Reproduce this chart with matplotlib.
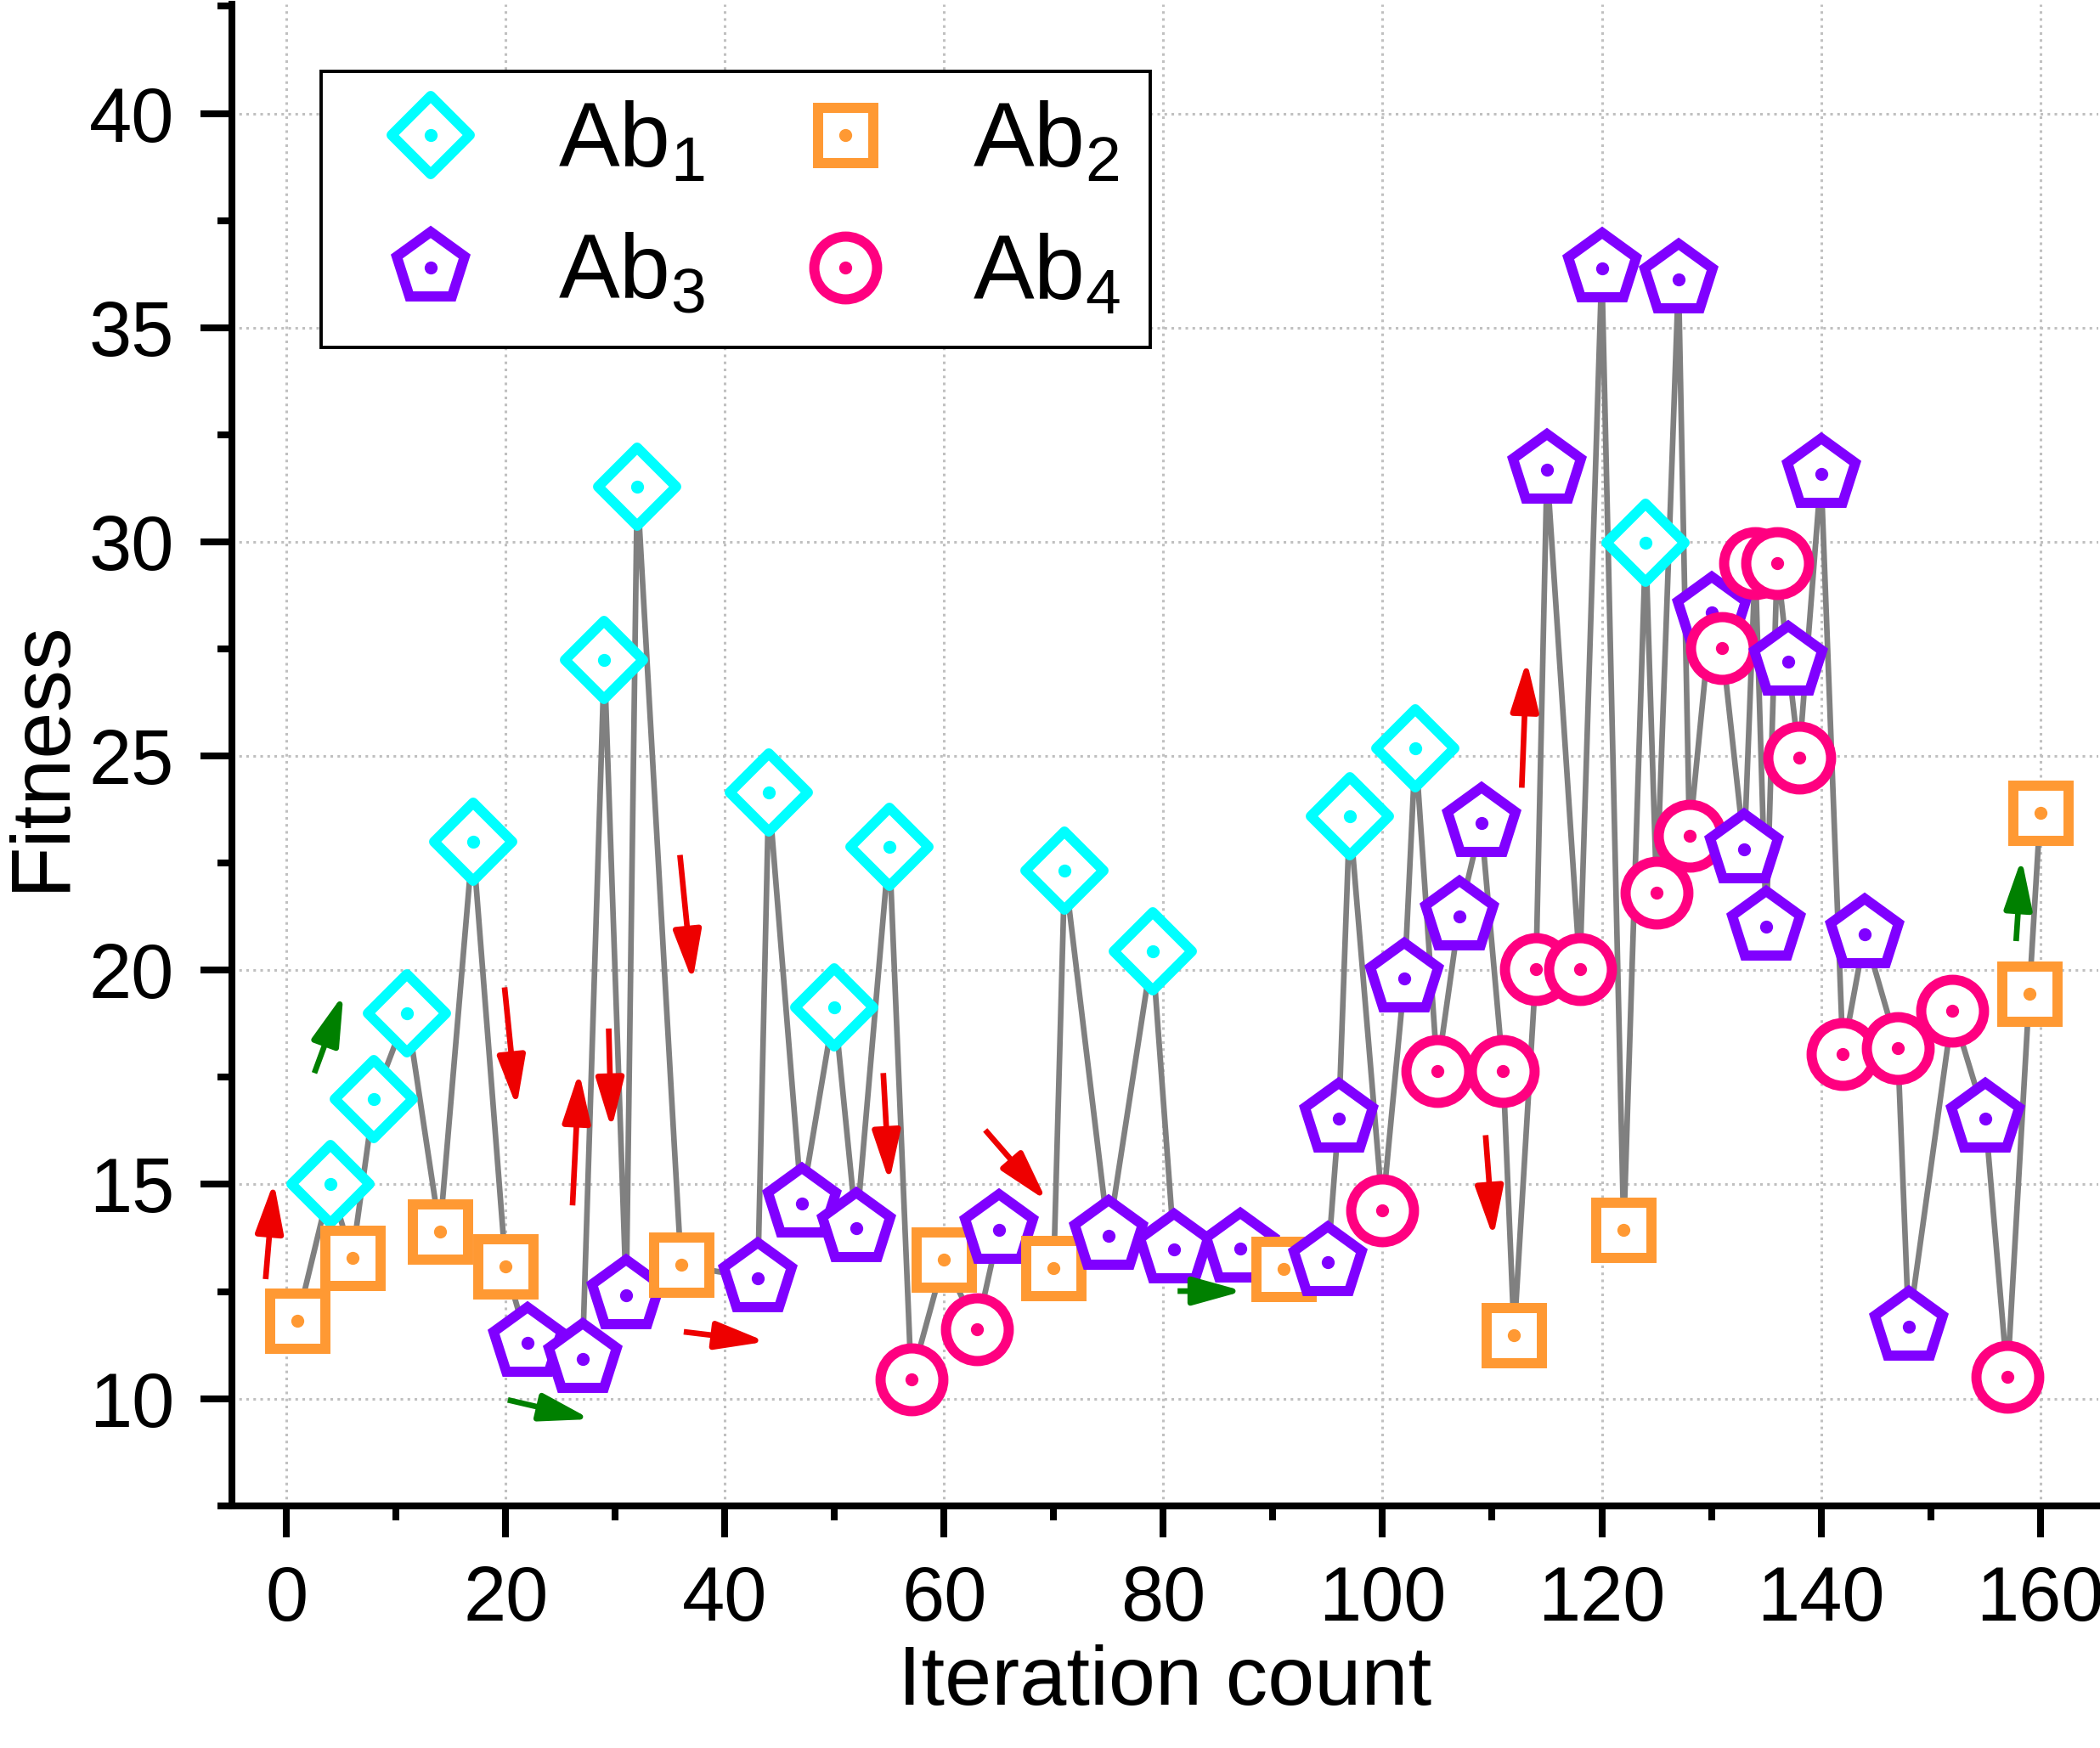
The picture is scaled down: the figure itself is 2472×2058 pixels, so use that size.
import matplotlib.pyplot as plt
from matplotlib.lines import Line2D
from matplotlib.markers import MarkerStyle
from matplotlib.patches import FancyArrowPatch
from matplotlib.ticker import MultipleLocator

plt.rcParams['font.family'] = ['Liberation Sans', 'DejaVu Sans']
plt.rcParams['mathtext.fontset'] = 'custom'
plt.rcParams['mathtext.rm'] = 'Liberation Sans'

# data, in iteration order
iteration = [1, 4, 6, 8, 11, 14, 17, 20, 22, 27, 29, 31, 32, 36, 43, 44, 47, 50, 52, 55,
             57, 60, 63, 65, 70, 71, 75, 79, 81, 87, 91, 95, 96, 97, 100, 102, 103, 105,
             107, 109, 111, 112, 114, 115, 118, 120, 122, 124, 125, 127, 128, 130, 131,
             133, 134, 135, 136, 137, 138, 140, 142, 144, 147, 148, 152, 155, 157, 159, 160]
fitness = [11.82, 15.0, 13.28, 16.99, 19.0, 13.89, 22.99, 13.08, 11.31, 10.93, 27.25, 12.41,
           31.29, 13.12, 12.8, 24.14, 14.56, 19.13, 13.97, 22.89, 10.45, 13.25, 11.62, 13.93,
           13.05, 22.32, 13.8, 20.44, 13.48, 13.5, 13.02, 13.19, 16.53, 23.6, 14.4, 19.8,
           25.18, 17.64, 21.26, 23.44, 17.64, 11.49, 20.03, 31.69, 20.03, 36.38, 13.93, 29.97,
           21.82, 36.13, 23.13, 28.36, 27.53, 22.83, 29.5, 21.01, 29.5, 27.2, 24.97, 31.59,
           18.04, 20.83, 18.18, 11.67, 19.05, 16.53, 10.5, 19.45, 23.67]
antibody = [2, 1, 2, 1, 1, 2, 1, 2, 3, 3, 1, 3, 1, 2, 3, 1, 3, 1, 3, 1,
            4, 2, 4, 3, 2, 1, 3, 1, 3, 3, 2, 3, 3, 1, 4, 3, 1, 4,
            3, 3, 4, 2, 4, 3, 4, 3, 2, 1, 4, 3, 4, 3, 4,
            3, 4, 3, 4, 3, 4, 3, 4, 3, 4, 3, 4, 3, 4, 2, 2]

# annotation arrows: (x_tail, y_tail, x_head, y_head)
red_arrows = [(-1.9, 12.79, -1.15, 15.06), (19.9, 19.6, 21.0, 16.81), (26.1, 14.51, 26.7, 17.63),
              (29.4, 18.64, 29.65, 16.29), (35.9, 22.69, 37.05, 19.74), (36.25, 11.56, 43.75, 11.33),
              (54.45, 17.6, 55.0, 15.06), (63.75, 16.27, 69.35, 14.62), (109.4, 16.15, 110.1, 13.76),
              (112.7, 24.26, 113.15, 27.23)]
green_arrows = [(2.55, 17.6, 5.2, 19.44), (20.2, 9.97, 27.75, 9.52), (81.3, 12.51, 87.3, 12.51),
                (157.8, 20.68, 158.3, 22.61)]

styles = {1: ('D', '#00FFFF', 23.5, 'round'),
          2: ('s', '#FF9933', 23.4, 'miter'),
          3: ('p', '#8000FF', 30.6, 'miter'),
          4: ('o', '#FF0080', 26.6, 'round')}
labels = {1: r'Ab$_\mathregular{1}$', 2: r'Ab$_\mathregular{2}$',
          3: r'Ab$_\mathregular{3}$', 4: r'Ab$_\mathregular{4}$'}

fig = plt.figure(figsize=(12.36, 10.29), dpi=200)
ax = fig.add_axes([0.1103, 0.1386, 0.8889, 0.859])

ax.plot(iteration, fitness, color='#808080', lw=2.4, zorder=2)

for i, (xi, yi, ab) in enumerate(zip(iteration, fitness, antibody)):
    m, c, s, js = styles[ab]
    z = 3 + i * 0.01
    ax.plot(xi, yi, marker=MarkerStyle(m, joinstyle=js), ms=s, mfc='white', mec=c,
            mew=4.3, ls='none', zorder=z)
    ax.plot(xi, yi, marker='o', ms=5.5, mfc=c, mec='none', ls='none', zorder=z + 0.005)

for arrows, col in [(red_arrows, '#EE0000'), (green_arrows, '#008000')]:
    for x0, y0, x1, y1 in arrows:
        arr = FancyArrowPatch((x0, y0), (x1, y1), arrowstyle='-|>,head_length=18,head_width=5',
                              mutation_scale=1, lw=2.4, color=col, shrinkA=0, shrinkB=0,
                              joinstyle='round', capstyle='butt', zorder=10)
        ax.add_patch(arr)

ax.set_xlim(-5, 165.3)
ax.set_ylim(7.5, 42.55)
ax.xaxis.set_major_locator(MultipleLocator(20))
ax.xaxis.set_minor_locator(MultipleLocator(10))
ax.yaxis.set_major_locator(MultipleLocator(5))
ax.yaxis.set_minor_locator(MultipleLocator(2.5))

ax.spines['top'].set_visible(False)
ax.spines['right'].set_visible(False)
for sp in ['left', 'bottom']:
    ax.spines[sp].set_linewidth(2.9)
ax.tick_params(which='major', direction='out', length=13.3, width=2.9, labelsize=32.5)
ax.tick_params(axis='x', which='major', pad=11.5)
ax.tick_params(axis='y', which='major', pad=11)
ax.tick_params(which='minor', direction='out', length=6.1, width=2.9)

ax.set_axisbelow(True)
ax.grid(True, which='major', color='#C0C0C0', linestyle=(0, (1, 1.7)), linewidth=1.1)

ax.set_xlabel('Iteration count', fontsize=35.7, labelpad=3.5)
ax.set_ylabel('Fitness', fontsize=35.7, labelpad=3.7)

handles = []
order = [1, 3, 2, 4]
for ab in order:
    m, c, s, js = styles[ab]
    h1 = Line2D([], [], marker=MarkerStyle(m, joinstyle=js), ms=s, mfc='white', mec=c,
                mew=4.3, ls='none')
    h2 = Line2D([], [], marker='o', ms=5.5, mfc=c, mec='none', ls='none')
    handles.append((h1, h2))
leg = ax.legend(handles, [labels[ab] for ab in order], ncol=2, loc='upper left',
                bbox_to_anchor=(0.0479, 0.9553), borderaxespad=0, frameon=True,
                fancybox=False, edgecolor='black', framealpha=1, fontsize=38.7,
                handlelength=1.76, handletextpad=0.52, columnspacing=0.65,
                borderpad=0.32, labelspacing=0.52)
leg.get_frame().set_linewidth(1.4)
leg.set_zorder(20)

fig.savefig('out.png', dpi=200)
